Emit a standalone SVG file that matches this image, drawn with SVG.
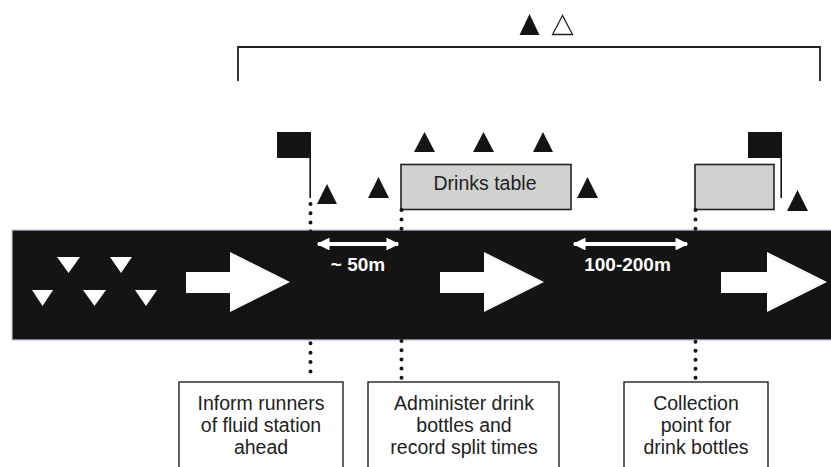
<svg xmlns="http://www.w3.org/2000/svg" width="831" height="467" viewBox="0 0 831 467">
<style>
.tri{fill:#141414}
.wtri{fill:#ffffff}
.flag{fill:#141414}
.pole{stroke:#141414;stroke-width:1.6;fill:none}
.gbox{fill:#d0d2d0;stroke:#222;stroke-width:1.6}
.wbox{fill:#ffffff;stroke:#222;stroke-width:1.4}
.dots{stroke:#141414;stroke-width:4;stroke-linecap:round;fill:none}
.t{font-family:"Liberation Sans",Arial,sans-serif;font-size:19.5px;fill:#222;text-anchor:middle}
.wt{font-family:"Liberation Sans",Arial,sans-serif;font-size:19px;font-weight:bold;fill:#ffffff;text-anchor:middle}
.dbl{stroke:#ffffff;stroke-width:4;fill:none}
</style>
<defs>
<marker id="ah" viewBox="0 0 10 10" refX="9" refY="5" markerWidth="3.2" markerHeight="3.2" orient="auto-start-reverse" markerUnits="strokeWidth">
<path d="M0,0 L10,5 L0,10 Z" fill="#ffffff"/>
</marker>
</defs>
<rect width="831" height="467" fill="#ffffff"/>
<g id="bracket">
<path d="M238,81 V47 H820 V81" fill="none" stroke="#222" stroke-width="1.8"/>
<polygon class="tri" points="529.5,14 519.5,35 539.5,35"/>
<polygon points="562.5,15.5 552.5,34.5 572.5,34.5" fill="#fff" stroke="#222" stroke-width="1.3"/>
</g>
<g id="road">
<rect x="12" y="230" width="830" height="110" fill="#141414" stroke="#c6c6dc" stroke-width="1.2"/>
<polygon class="wtri" points="57,257 80,257 68.5,273"/>
<polygon class="wtri" points="110,257 132,257 121,273"/>
<polygon class="wtri" points="32,290 53,290 42.5,306"/>
<polygon class="wtri" points="83,290 106,290 94.5,306"/>
<polygon class="wtri" points="135,290 157,290 146,306"/>
<polygon class="wtri" points="186,272 230,272 230,252 290,282 230,312 230,293 186,293"/>
<polygon class="wtri" points="440,272 484,272 484,252 544,282 484,312 484,293 440,293"/>
<polygon class="wtri" points="721,272 767,272 767,252 827,282 767,312 767,293 721,293"/>
</g>
<g id="distance-50m">
<line class="dbl" x1="318" y1="244" x2="398" y2="244" marker-start="url(#ah)" marker-end="url(#ah)"/>
<text class="wt" x="358" y="271">~ 50m</text>
</g>
<g id="distance-100-200m">
<line class="dbl" x1="574" y1="244" x2="687" y2="244" marker-start="url(#ah)" marker-end="url(#ah)"/>
<text class="wt" x="627.5" y="271">100-200m</text>
</g>
<g id="flag-left">
<rect class="flag" x="277" y="132" width="34" height="26"/>
<line class="pole" x1="310.2" y1="158" x2="310.2" y2="198"/>
<polygon class="tri" points="327,184 317,204 337,204"/>
</g>
<g id="drinks-table">
<rect class="gbox" x="401" y="164.5" width="170" height="45"/>
<text class="t" x="485" y="190">Drinks table</text>
<polygon class="tri" points="378.5,177 368,198 389,198"/>
<polygon class="tri" points="424.5,132 414,152 435,152"/>
<polygon class="tri" points="483.5,132 473,152 494,152"/>
<polygon class="tri" points="543,132 533,152 553,152"/>
<polygon class="tri" points="587.5,177 577,198 598,198"/>
</g>
<g id="collection-table">
<rect class="flag" x="748" y="132" width="34" height="26"/>
<line class="pole" x1="781.2" y1="158" x2="781.2" y2="198"/>
<rect class="gbox" x="695" y="164.5" width="79" height="45"/>
<polygon class="tri" points="797.5,190 787,211 808,211"/>
</g>
<g id="connectors">
<path class="dots" d="M310.5,204 V232" stroke-dasharray="0 9.2"/>
<path class="dots" d="M310.5,343.3 V372" stroke-dasharray="0 9.4"/>
<path class="dots" d="M401.5,210 V230" stroke-dasharray="0 9.4"/>
<path class="dots" d="M401.5,341 V379" stroke-dasharray="0 9.2"/>
<path class="dots" d="M695.5,210 V230" stroke-dasharray="0 9.4"/>
<path class="dots" d="M695.5,341.7 V379" stroke-dasharray="0 9"/>
</g>
<g id="box-inform">
<rect class="wbox" x="179" y="382" width="164" height="100"/>
<text class="t" x="261" y="409.5">Inform runners</text>
<text class="t" x="261" y="432">of fluid station</text>
<text class="t" x="261" y="454">ahead</text>
</g>
<g id="box-administer">
<rect class="wbox" x="368" y="382" width="191" height="100"/>
<text class="t" x="464" y="409.5">Administer drink</text>
<text class="t" x="464" y="432">bottles and</text>
<text class="t" x="464" y="454">record split times</text>
</g>
<g id="box-collection">
<rect class="wbox" x="624" y="382" width="144" height="100"/>
<text class="t" x="696" y="409.5">Collection</text>
<text class="t" x="696" y="432">point for</text>
<text class="t" x="696" y="454">drink bottles</text>
</g>
</svg>
